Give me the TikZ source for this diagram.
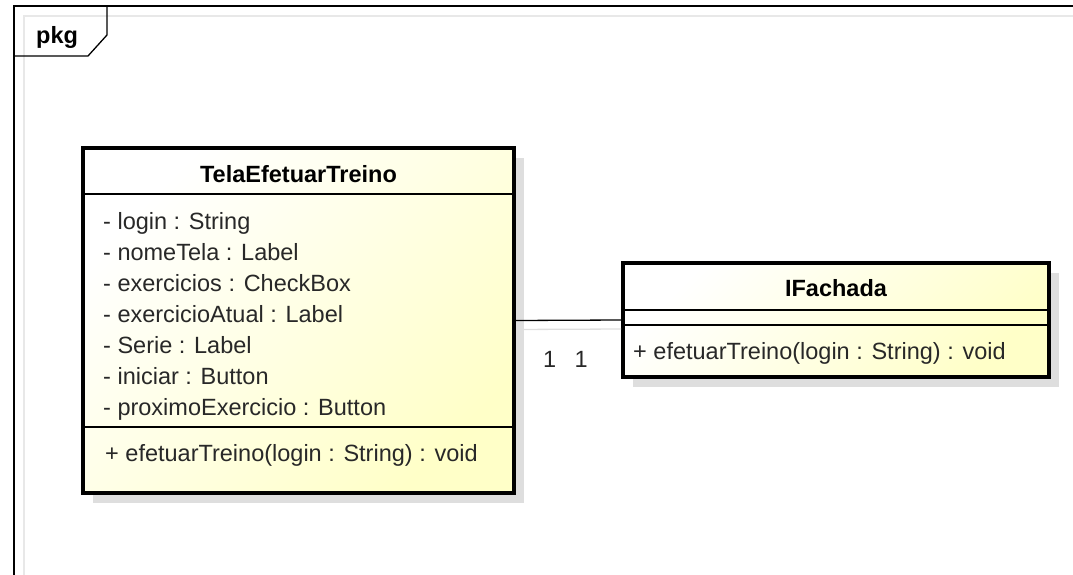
\documentclass[tikz,border=0pt]{standalone}
\usepackage{fontspec}
\setmainfont{Liberation Sans}
\usetikzlibrary{shadows}

\definecolor{classfill}{RGB}{255,255,200}
\definecolor{shadowgray}{RGB}{222,222,222}
\definecolor{framegray}{RGB}{232,232,232}
\definecolor{membertext}{RGB}{40,40,40}

\tikzset{
    classbox/.style={draw, line width=4pt, inner sep=0pt,
        top color=white, bottom color=classfill, shading angle=45,
        drop shadow={shadow xshift=10pt, shadow yshift=-10pt, fill=shadowgray, opacity=1}},
    sepline/.style={line width=1.2pt},
    umltext/.style={inner sep=0pt, font=\fontsize{23.5}{28}\selectfont},
    member/.style={umltext, anchor=base west, text=membertext},
    classname/.style={umltext, anchor=base, font=\fontsize{23.5}{28}\selectfont\bfseries},
    mult/.style={umltext, anchor=base, yshift=-47pt, text=membertext}
}

\begin{document}
\begin{tikzpicture}[x=1pt, y=-1pt]
    \useasboundingbox (0,0) rectangle (1073,575);

    % package frame
    \draw[framegray, line width=1.3pt] (24,575) -- (24,16) -- (1073,16);
    \draw[line width=1.3pt] (14,575) -- (14,6) -- (1073,6);
    \draw[line width=1.3pt] (107,6) -- (107,35) -- (88,56) -- (14,56);
    \node[classname, anchor=base west] (pkg) at (36,44) {pkg};

    % TelaEfetuarTreino
    \node[classbox, minimum width=431pt, minimum height=345pt] (tela) at (298.5,320.5) {};
    \node[classname] (telaname) at (298.5,182) {TelaEfetuarTreino};
    \draw[sepline] (tela.west |- 0,194) -- (tela.east |- 0,194);
    \draw[sepline] (tela.west |- 0,427) -- (tela.east |- 0,427);
    \foreach \attr [count=\i] in {- login : String, - nomeTela : Label, - exercicios : CheckBox,
        - exercicioAtual : Label, - Serie : Label, - iniciar : Button, - proximoExercicio : Button}
        \node[member] (telaattr\i) at (103,198+31*\i) {\attr};
    \node[member] (telaop) at (105,461) {+ efetuarTreino(login : String) : void};

    % IFachada
    \node[classbox, minimum width=426pt, minimum height=114pt] (fachada) at (836,320) {};
    \node[classname] (fachadaname) at (836,296) {IFachada};
    \draw[sepline] (fachada.west |- 0,310) -- (fachada.east |- 0,310);
    \draw[sepline] (fachada.west |- 0,325) -- (fachada.east |- 0,325);
    \node[member] (fachadaop) at (633,359) {+ efetuarTreino(login : String) : void};

    % association
    \draw[shadowgray, line width=1.3pt] ([yshift=-9pt]tela.east) -- ([yshift=-9pt]fachada.west);
    \draw[line width=1.3pt] (tela.east) -- (fachada.west)
        node[mult, pos=0.32] (multtela) {1}
        node[mult, pos=0.62] (multfachada) {1};
\end{tikzpicture}
\end{document}
